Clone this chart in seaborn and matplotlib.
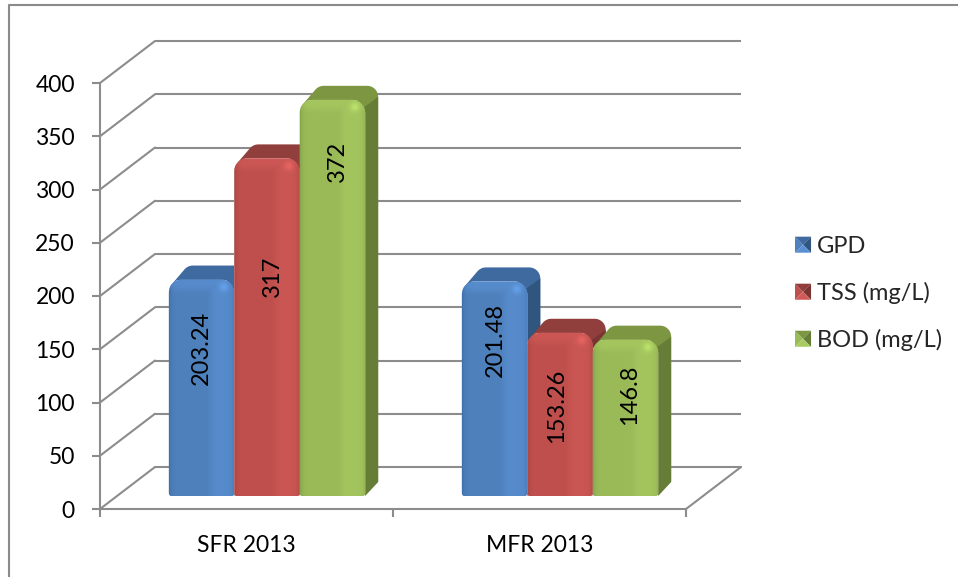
import numpy as np
import pandas as pd
import matplotlib
matplotlib.use("Agg")
import matplotlib.pyplot as plt
from matplotlib.legend_handler import HandlerBase
from matplotlib.lines import Line2D
from matplotlib.patches import Patch, PathPatch, Polygon
from matplotlib.path import Path
from matplotlib.transforms import Affine2D
import seaborn as sns

# Chart values
periods = ["SFR 2013", "MFR 2013"]
measures = ["GPD", "TSS (mg/L)", "BOD (mg/L)"]
gpd_values = [203.24, 201.48]
tss_values = [317, 153.26]
bod_values = [372, 146.8]
value_labels = [["203.24", "201.48"], ["317", "153.26"], ["372", "146.8"]]
y_ticks = [0, 50, 100, 150, 200, 250, 300, 350, 400]

# Label centres along each bar, in value units
label_heights = [[151, 159], [218, 97], [326, 107]]
label_shifts = [[0, 1], [5, -3], [5, 4]]

# Bar colours: base, light, dark, top face, side face
palette = {
    "GPD": ("#4f81bd", "#5a90d2", "#3a6ba6", "#3e6a9f", "#30557f"),
    "TSS (mg/L)": ("#c0504d", "#d05a57", "#9c3f3c", "#913f3c", "#7a3533"),
    "BOD (mg/L)": ("#9bbb59", "#a8ca60", "#7f9c46", "#7c9642", "#667d38"),
}
GRID = "#8c8c8c"
W, H = 958, 577

sns.set_theme(style="white")
plt.rcParams["font.family"] = ["Lato", "DejaVu Sans"]

df = pd.DataFrame({
    "period": periods * 3,
    "measure": np.repeat(measures, 2),
    "value": gpd_values + tss_values + bod_values,
})

fig = plt.figure(figsize=(W / 100, H / 100), dpi=100)
ax = fig.add_axes([100 / W, (H - 509) / H, 586 / W, 426 / H])
sns.barplot(
    data=df, x="period", y="value", hue="measure", order=periods,
    hue_order=measures, palette={m: palette[m][0] for m in measures},
    width=0.67, gap=0, saturation=1, legend=False, ax=ax,
)
ax.set_xlim(-0.5, 1.5)
ax.set_ylim(0, 400)
ax.set_xlabel("")
ax.set_ylabel("")
ax.patch.set_alpha(0)

PX_X = 586 / 2
PX_Y = 426 / 400
px = Affine2D().scale(1, -1).translate(0, H)

# Oblique projection of the back wall and of the bars' ground line
wall_dx, wall_dy = 55 / PX_X, 42 / PX_Y
bar_dx, bar_dy = 20.5 / PX_X, 13 / PX_Y
x_left, x_right = -0.5, 1.5

for tick in y_ticks:
    if tick > 0:
        ax.plot([x_left + wall_dx, x_right + wall_dx], [tick + wall_dy] * 2,
                color=GRID, lw=1.5, clip_on=False, zorder=1, solid_capstyle="butt")
    ax.plot([x_left, x_left + wall_dx], [tick, tick + wall_dy],
            color=GRID, lw=1.5, clip_on=False, zorder=1)
ax.plot([x_left + wall_dx, x_right + wall_dx], [wall_dy, wall_dy],
        color=GRID, lw=1.5, clip_on=False, zorder=1)
ax.plot([x_right, x_right + wall_dx], [0, wall_dy],
        color=GRID, lw=1.5, clip_on=False, zorder=1)


def rounded_outline(x0, top, x1, bottom, r_top, r_bottom):
    """Outline of a rectangle with separate top and bottom corner radii, y down."""
    pts = []
    corners = [(x0 + r_top, top + r_top, r_top, 180, 270),
               (x1 - r_top, top + r_top, r_top, 270, 360),
               (x1 - r_bottom, bottom - r_bottom, r_bottom, 0, 90),
               (x0 + r_bottom, bottom - r_bottom, r_bottom, 90, 180)]
    for cx, cy, r, a0, a1 in corners:
        for a in np.radians(np.linspace(a0, a1, 12)):
            pts.append((cx + r * np.cos(a), cy + r * np.sin(a)))
    return np.array(pts)


def convex_hull(points):
    pts = sorted(map(tuple, points))
    def half(seq):
        out = []
        for p in seq:
            while len(out) > 1 and ((out[-1][0] - out[-2][0]) * (p[1] - out[-2][1])
                                    - (out[-1][1] - out[-2][1]) * (p[0] - out[-2][0])) <= 0:
                out.pop()
            out.append(p)
        return out[:-1]
    return np.array(half(pts) + half(pts[::-1]))


def face_shading(width, height, base, light, dark):
    """RGB array for the bevelled front face of a bar."""
    b, l, d = (np.array(matplotlib.colors.to_rgb(c)) for c in (base, light, dark))
    xs = np.arange(width) + 0.5
    ys = np.arange(height) + 0.5
    gx, gy = np.meshgrid(xs, ys)
    img = np.ones((height, width, 3)) * b

    lift = np.clip((gx - 0.58 * width) / 8, 0, 1) * 0.65
    band = np.clip((14 - gy) / 8, 0, 1) * 0.7
    lift = np.maximum(lift, band)
    img = img + (l - img) * lift[..., None]

    edge = np.exp(-gx / 2.5) * 0.8 + np.exp(-(width - gx) / 2.5) * 0.6
    img = img + (d - img) * np.clip(edge, 0, 1)[..., None]

    spot = np.exp(-(((gx - (width - 11)) / 4.5) ** 2 + ((gy - 8) / 4.5) ** 2)) * 0.7
    img = img + (np.minimum(l * 1.18, 1) - img) * spot[..., None]
    return np.clip(img, 0, 1)


depth_x, depth_y = 13, 14
for container, measure, labels, heights, shifts in zip(
        ax.containers, measures, value_labels, label_heights, label_shifts):
    base, light, dark, top_col, side_col = palette[measure]
    for k, (bar, label, lh, shift) in enumerate(zip(container, labels, heights, shifts)):
        bar.set_x(bar.get_x() + bar_dx)
        bar.set_y(bar_dy)
        (x0, bottom), (x1, top) = ax.transData.transform(
            [(bar.get_x(), bar.get_y()), (bar.get_x() + bar.get_width(), bar.get_y() + bar.get_height())])
        top, bottom = H - top, H - bottom

        order = 3 + 0.5 * k + 0.1 * measures.index(measure)
        front = rounded_outline(x0, top, x1, bottom, 13, 3)
        back = rounded_outline(x0 + depth_x, top - depth_y, x1 + depth_x, bottom - depth_y, 11, 1)
        ax.add_patch(Polygon(convex_hull(np.vstack([front, back])), closed=True, transform=px,
                             facecolor=top_col, edgecolor="none", zorder=order, clip_on=False))
        ax.add_patch(Polygon([(x1 - 2, top + 8), (x1 + depth_x, top - depth_y + 11),
                              (x1 + depth_x, bottom - depth_y), (x1, bottom)], closed=True,
                             transform=px, facecolor=side_col, edgecolor="none",
                             zorder=order + 0.01, clip_on=False))

        clip = PathPatch(Path(front, closed=False), transform=px)
        bar.set_zorder(order + 0.02)
        bar.set_clip_path(clip)
        width, height = int(round(x1 - x0)), int(round(bottom - top))
        image = ax.imshow(face_shading(width, height, base, light, dark),
                          extent=[x0, x1, bottom, top], origin="upper", aspect="auto",
                          transform=px, zorder=order + 0.03, interpolation="bilinear")
        image.set_clip_path(clip)

        ax.text(bar.get_x() + bar.get_width() / 2 + shift / PX_X, lh, label,
                rotation=90, ha="center", va="center", fontsize=17, color="black", zorder=20)

ax.set_xlim(-0.5, 1.5)
ax.set_ylim(0, 400)

# Axes: value ticks on the left, category boundaries along the bottom
sns.despine(ax=ax, top=True, right=True)
for side in ("left", "bottom"):
    ax.spines[side].set_color(GRID)
    ax.spines[side].set_linewidth(1.5)
ax.set_yticks(y_ticks)
ax.set_xticks([0, 1], periods)
ax.set_xticks([-0.5, 0.5, 1.5], minor=True)
ax.tick_params(axis="y", length=6, width=1.5, color=GRID, pad=12, labelsize=16.5, left=True, labelcolor="black")
ax.tick_params(axis="x", which="major", length=0, pad=19, labelsize=16.5, labelcolor="black")
ax.tick_params(axis="x", which="minor", length=6, width=1.5, color=GRID, bottom=True)


class BevelHandler(HandlerBase):
    """Legend key drawn as a small bevelled square."""

    def create_artists(self, legend, orig_handle, xdescent, ydescent, width, height, fontsize, trans):
        base, light, _, top_col, side_col = palette[orig_handle.get_label()]
        x0, y0 = -xdescent, -ydescent + (height - width) / 2
        x1, y1 = x0 + width, y0 + width
        cx, cy = (x0 + x1) / 2, (y0 + y1) / 2
        faces = [
            ([(x0, y0), (x0, y1), (cx, cy)], base),
            ([(x0, y1), (x1, y1), (cx, cy)], top_col),
            ([(x1, y1), (x1, y0), (cx, cy)], side_col),
            ([(x1, y0), (x0, y0), (cx, cy)], light),
        ]
        return [Polygon(p, closed=True, facecolor=c, edgecolor="none", transform=trans) for p, c in faces]


handles = [Patch(facecolor=palette[m][0], label=m) for m in measures]
ax.legend(handles=handles, handler_map={Patch: BevelHandler()}, frameon=False, fontsize=17,
          loc="center left", bbox_to_anchor=(795 / W, 1 - 293.5 / H), bbox_transform=fig.transFigure,
          borderpad=0, borderaxespad=0, handlelength=0.68, handleheight=0.68,
          handletextpad=0.26, labelspacing=1.056)

# Chart-area border: only the top and left edges are visible
fig.add_artist(Line2D([9 / W, 9 / W, 1], [0, 1 - 5 / H, 1 - 5 / H], color="#8a8a8a", lw=1.5))

fig.savefig("out.png", dpi=100, facecolor="white")
